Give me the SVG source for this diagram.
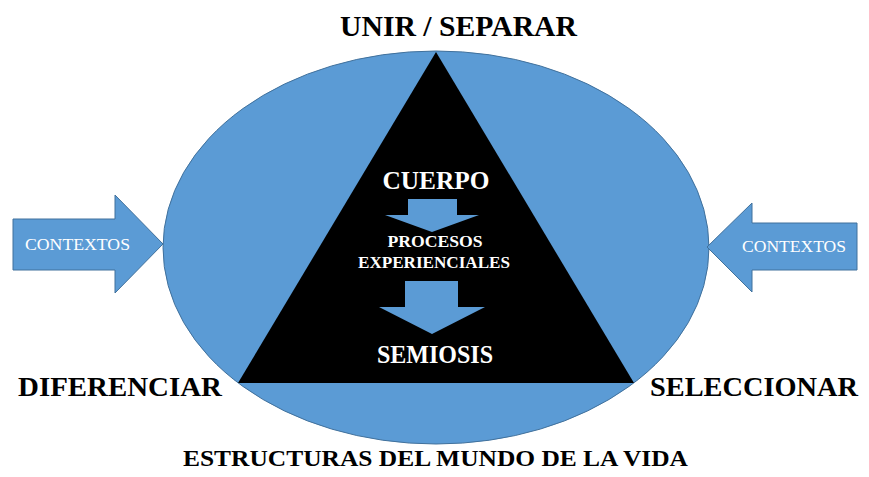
<svg xmlns="http://www.w3.org/2000/svg" width="869" height="477" viewBox="0 0 869 477">
<style>
.blue{fill:#5B9BD5;stroke:#41719C;stroke-width:1}
.lbl{font-family:"Liberation Serif","DejaVu Serif",serif;font-weight:bold;fill:#000;text-anchor:middle}
.wt{font-family:"Liberation Serif","DejaVu Serif",serif;font-weight:bold;fill:#fff;text-anchor:middle}
.ctx{font-family:"Liberation Serif","DejaVu Serif",serif;fill:#fff;text-anchor:middle;font-size:17px}
</style>
<rect width="869" height="477" fill="#fff"/>
<g id="ellipse"><ellipse class="blue" cx="436" cy="247.5" rx="273" ry="196.5"/></g>
<g id="triangle"><polygon points="436,52 238,383 634,383" fill="#000"/></g>
<g id="connectors">
<polygon class="blue" points="13,219 115,219 115,195 163,244 115,293 115,270 13,270"/>
<polygon class="blue" points="857,223 752,223 752,203 707,247 752,292 752,270 857,270"/>
<polygon fill="#5B9BD5" points="408,199 457,199 457,215 479,215 432,232 385,215 408,215"/>
<polygon fill="#5B9BD5" points="405,281 458,281 458,307 485,307 432,334 379,307 405,307"/>
</g>
<g id="ctx-left"><text class="ctx" x="77.5" y="250" textLength="105" lengthAdjust="spacingAndGlyphs">CONTEXTOS</text></g>
<g id="ctx-right"><text class="ctx" x="794" y="252" textLength="104" lengthAdjust="spacingAndGlyphs">CONTEXTOS</text></g>
<g id="cuerpo"><text class="wt" x="436" y="189" font-size="25" textLength="107" lengthAdjust="spacingAndGlyphs">CUERPO</text></g>
<g id="procesos"><text class="wt" x="435" y="247" font-size="16" textLength="95" lengthAdjust="spacingAndGlyphs">PROCESOS</text><text class="wt" x="434" y="268" font-size="16" textLength="152" lengthAdjust="spacingAndGlyphs">EXPERIENCIALES</text></g>
<g id="semiosis"><text class="wt" x="435" y="363" font-size="25" textLength="116" lengthAdjust="spacingAndGlyphs">SEMIOSIS</text></g>
<g id="unir"><text class="lbl" x="458.5" y="36" font-size="29" textLength="237" lengthAdjust="spacingAndGlyphs">UNIR / SEPARAR</text></g>
<g id="diferenciar"><text class="lbl" x="120" y="396" font-size="28" textLength="204" lengthAdjust="spacingAndGlyphs">DIFERENCIAR</text></g>
<g id="seleccionar"><text class="lbl" x="754" y="396" font-size="28" textLength="208" lengthAdjust="spacingAndGlyphs">SELECCIONAR</text></g>
<g id="estructuras"><text class="lbl" x="435.5" y="466" font-size="24" textLength="505" lengthAdjust="spacingAndGlyphs">ESTRUCTURAS DEL MUNDO DE LA VIDA</text></g>
</svg>
